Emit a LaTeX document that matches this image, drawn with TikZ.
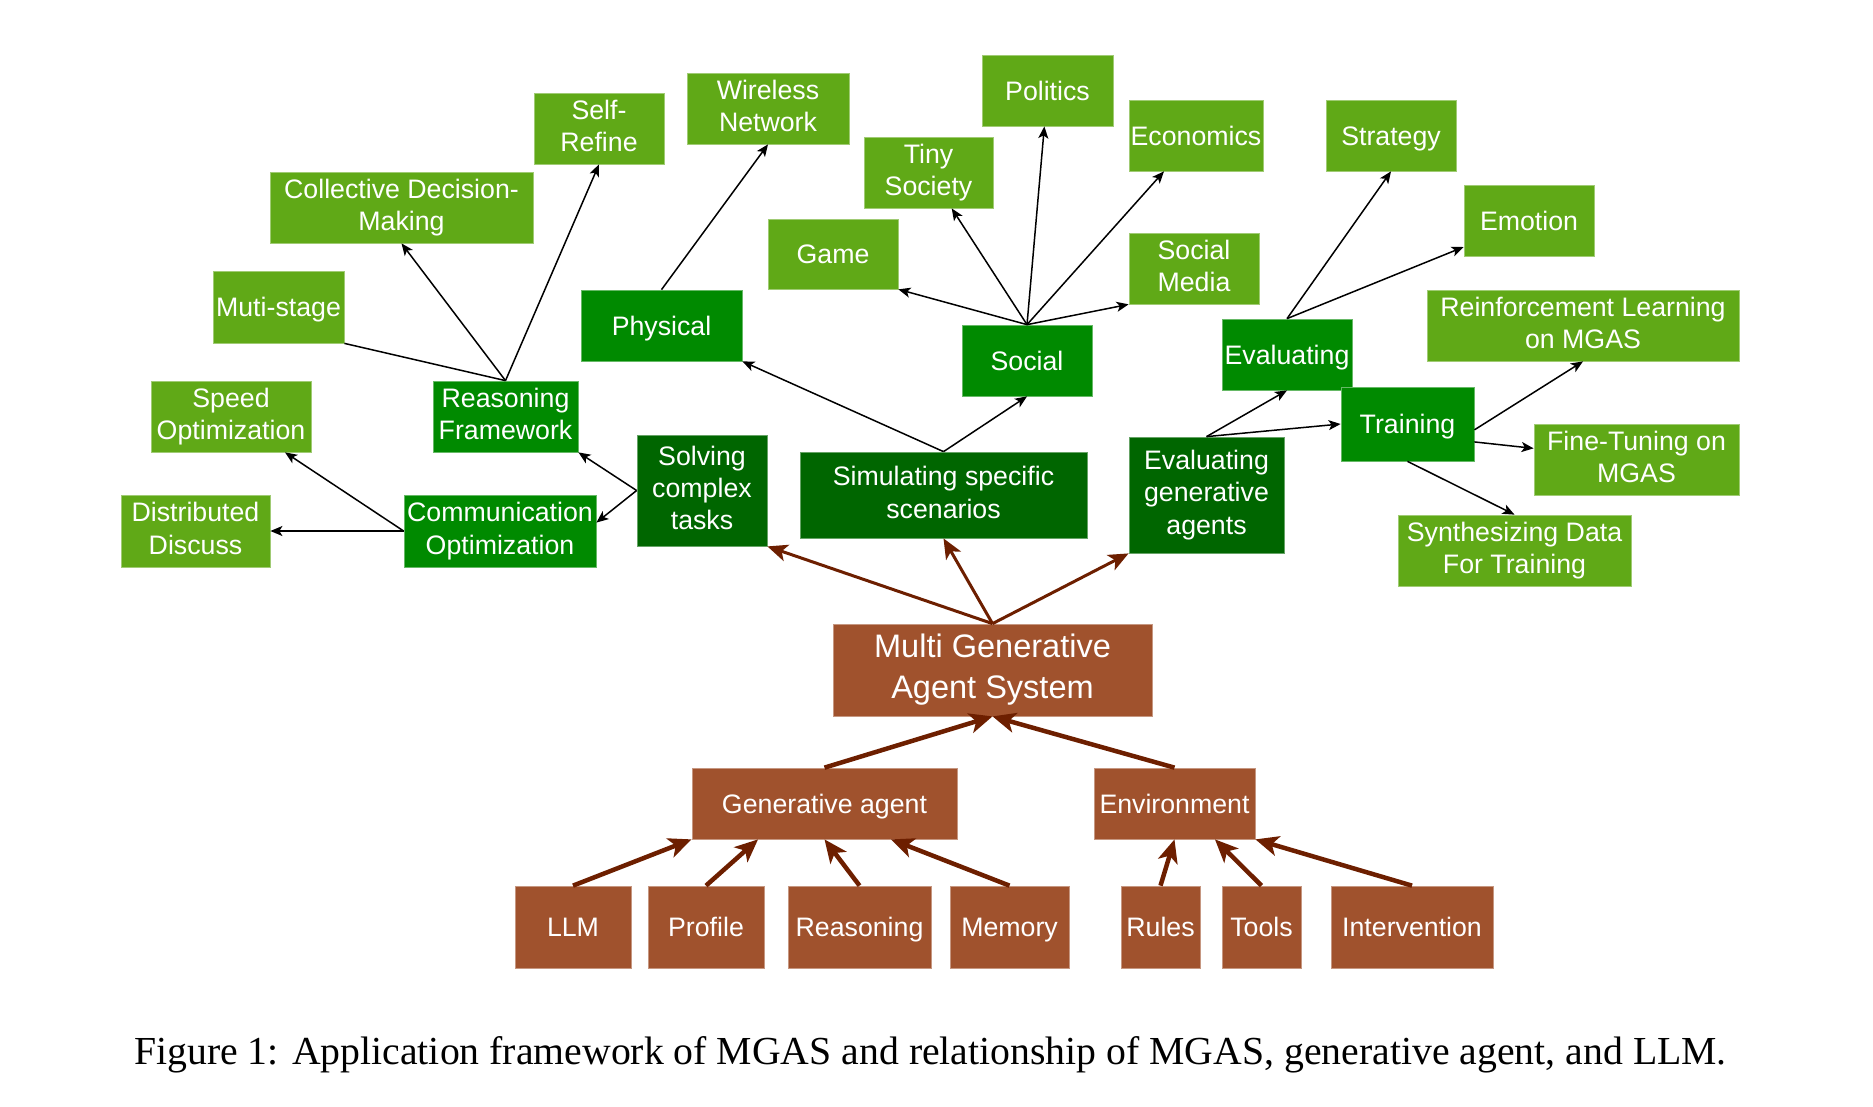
\documentclass[tikz,border=0pt]{standalone}
\usepackage{fontspec}
\setmainfont{Liberation Serif}
\setsansfont{Liberation Sans}
\usepackage{xcolor}
\usetikzlibrary{arrows.meta,calc}
\definecolor{lgreen}{HTML}{60A917}
\definecolor{mgreen}{HTML}{008A00}
\definecolor{dgreen}{HTML}{006600}
\definecolor{sienna}{HTML}{A0522D}
\definecolor{darkbrown}{HTML}{6D1F00}
\newcommand{\boxfont}{\fontsize{7.6}{9.2}\selectfont\sffamily}
\newcommand{\bigboxfont}{\fontsize{9.25}{11.6}\selectfont\sffamily}
\newcommand{\linestrut}{\rule[-0.21em]{0pt}{1.14em}}

\begin{document}
\begin{tikzpicture}[
  x=0.01cm, y=-0.01cm,
  box/.style={minimum height=0.71cm, inner sep=0pt, align=center,
    text=white, font=\boxfont, line width=0.2pt,
    execute at begin node=\linestrut, execute at end node=\linestrut},
  leaf/.style={box, fill=lgreen, draw=lgreen!60!white},
  mid/.style={box, fill=mgreen, draw=mgreen!60!white},
  task/.style={box, fill=dgreen, draw=dgreen!60!white},
  brownbox/.style={box, fill=sienna, draw=sienna!60!white},
  link/.style={line width=0.015cm},
  arrow/.style={link, -{Stealth[length=0.12cm, width=0.1cm, inset=0.03cm]}},
  barrow/.style={draw=darkbrown, line width=0.03cm,
    -{Stealth[length=0.2cm, width=0.17cm, inset=0.05cm]}},
  bbarrow/.style={barrow, line width=0.045cm,
    -{Stealth[length=0.23cm, width=0.2cm, inset=0.06cm]}}
]
\useasboundingbox (0,0) rectangle (1873,1106);

% left branch
\node[leaf, minimum width=1.30cm] (selfrefine) at (599,128.5) {Self-\\Refine};
\node[leaf, minimum width=1.62cm] (wireless) at (768,108.5) {Wireless\\Network};
\node[leaf, minimum width=2.63cm] (collective) at (401.5,207.5) {Collective Decision-\\Making};
\node[leaf, minimum width=1.31cm, minimum height=0.72cm] (mutistage) at (278.5,307) {Muti-stage};
\node[leaf, minimum width=1.60cm] (speed) at (231,416.5) {Speed\\Optimization};
\node[leaf, minimum width=1.49cm, minimum height=0.72cm] (distributed) at (195.5,531) {Distributed\\Discuss};
\node[mid, minimum width=1.61cm] (physical) at (661.5,325.5) {Physical};
\node[mid, minimum width=1.45cm] (rf) at (505.5,416.5) {Reasoning\\Framework};
\node[mid, minimum width=1.92cm, minimum height=0.72cm] (comm) at (500,531) {Communication\\Optimization};

% social branch
\node[leaf, minimum width=1.31cm] (politics) at (1047.5,90.5) {Politics};
\node[leaf, minimum width=1.29cm] (tiny) at (928.5,172.5) {Tiny\\Society};
\node[leaf, minimum width=1.34cm] (economics) at (1196,135.5) {Economics};
\node[leaf, minimum width=1.30cm, minimum height=0.70cm] (game) at (833,254) {Game};
\node[leaf, minimum width=1.30cm] (socmedia) at (1194,268.5) {Social\\Media};
\node[mid, minimum width=1.30cm] (social) at (1027,360.5) {Social};

% evaluating branch
\node[leaf, minimum width=1.30cm] (strategy) at (1391,135.5) {Strategy};
\node[leaf, minimum width=1.30cm] (emotion) at (1529,220.5) {Emotion};
\node[leaf, minimum width=3.12cm] (rl) at (1583,325.5) {Reinforcement Learning\\on MGAS};
\node[leaf, minimum width=2.05cm] (finetune) at (1636.5,459.5) {Fine-Tuning on\\MGAS};
\node[leaf, minimum width=2.33cm] (synth) at (1514.5,550.5) {Synthesizing Data\\For Training};
\node[mid, minimum width=1.30cm] (evaluating) at (1287,354.5) {Evaluating};
\node[mid, minimum width=1.33cm, minimum height=0.74cm] (training) at (1407.5,424) {Training};

% applications
\node[task, minimum width=1.30cm, minimum height=1.11cm] (solving) at (702,490.5) {Solving\\complex\\tasks};
\node[task, minimum width=2.87cm, minimum height=0.86cm] (simulating) at (943.5,495) {Simulating specific\\scenarios};
\node[task, minimum width=1.55cm, minimum height=1.16cm] (egen) at (1206.5,495) {Evaluating\\generative\\agents};

% system
\node[brownbox, font=\bigboxfont, minimum width=3.19cm, minimum height=0.92cm] (mgas) at (992.5,670) {Multi Generative\\Agent System};
\node[brownbox, minimum width=2.65cm] (ga) at (824.5,803.5) {Generative agent};
\node[brownbox, minimum width=1.61cm] (env) at (1174.5,803.5) {Environment};
\node[brownbox, minimum width=1.16cm, minimum height=0.82cm] (llm) at (573,927) {LLM};
\node[brownbox, minimum width=1.16cm, minimum height=0.82cm] (profile) at (706,927) {Profile};
\node[brownbox, minimum width=1.43cm, minimum height=0.82cm] (reasoning) at (859.5,927) {Reasoning};
\node[brownbox, minimum width=1.19cm, minimum height=0.82cm] (memory) at (1009.5,927) {Memory};
\node[brownbox, minimum width=0.79cm, minimum height=0.82cm] (rules) at (1160.5,927) {Rules};
\node[brownbox, minimum width=0.79cm, minimum height=0.82cm] (tools) at (1261.5,927) {Tools};
\node[brownbox, minimum width=1.62cm, minimum height=0.82cm] (intervention) at (1412,927) {Intervention};

\node[font=\fontsize{11.3}{13}\selectfont] (caption) at (930.5,1055)
  {Figure 1: Application framework of MGAS and relationship of MGAS, generative agent, and LLM.};

\draw[link] (rf.north) -- (mutistage.south east);
\draw[arrow] (rf.north) -- (collective.south);
\draw[arrow] (rf.north) -- (selfrefine.south);
\draw[arrow] (physical.north) -- (wireless.south);
\draw[arrow] (simulating.north) -- (physical.south east);
\draw[arrow] (simulating.north) -- (social.south);
\draw[arrow] (social.north) -- (game.south east);
\draw[arrow] (social.north) -- (tiny);
\draw[arrow] (social.north) -- (politics);
\draw[arrow] (social.north) -- (economics);
\draw[arrow] (social.north) -- (socmedia.south west);
\draw[arrow] (egen.north) -- (evaluating.south);
\draw[arrow] (egen.north) -- (training.west);
\draw[arrow] (evaluating.north) -- (strategy.south);
\draw[arrow] (evaluating.north) -- (emotion);
\draw[arrow] (training.-5) -- (rl.south);
\draw[arrow] (training.-15) -- (finetune);
\draw[arrow] (training.south) -- (synth.north);
\draw[arrow] (solving.west) -- (rf.south east);
\draw[arrow] (solving.west) -- (comm.5);
\draw[arrow] (comm.west) -- (speed);
\draw[arrow] (comm.west) -- (distributed.east);

\draw[barrow] (mgas.north) -- (solving.south east);
\draw[barrow] (mgas.north) -- (simulating.south);
\draw[barrow] (mgas.north) -- (egen.south west);
\draw[bbarrow] (ga.north) -- (mgas.south);
\draw[bbarrow] (env.north) -- (mgas.south);
\draw[bbarrow] (llm.north) -- (ga.south west);
\draw[bbarrow] (profile.north) -- ($(ga.south west)!0.25!(ga.south east)$);
\draw[bbarrow] (reasoning.north) -- (ga.south);
\draw[bbarrow] (memory.north) -- ($(ga.south west)!0.75!(ga.south east)$);
\draw[bbarrow] (rules.north) -- (env.south);
\draw[bbarrow] (tools.north) -- ($(env.south west)!0.75!(env.south east)$);
\draw[bbarrow] (intervention.north) -- (env.south east);

\end{tikzpicture}
\end{document}
